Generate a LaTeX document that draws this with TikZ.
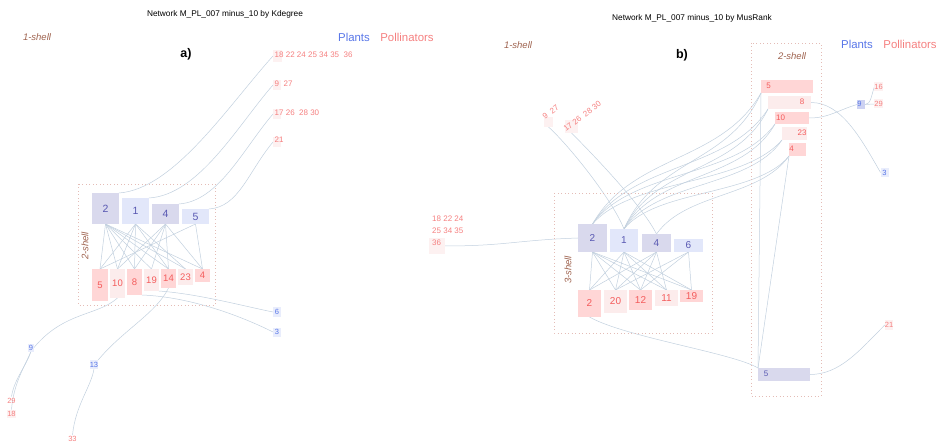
\documentclass[tikz,border=0pt]{standalone}
\usepackage{fontspec}
\setmainfont{Liberation Sans}
\usetikzlibrary{backgrounds}
\definecolor{edgec}{RGB}{194,208,222}
\definecolor{dotc}{RGB}{228,188,182}
\definecolor{shellc}{RGB}{158,98,78}
\definecolor{plantc}{RGB}{88,118,232}
\definecolor{pollc}{RGB}{245,128,128}
\definecolor{ptext}{RGB}{88,88,178}
\definecolor{qtext}{RGB}{244,92,92}
\definecolor{lav}{RGB}{217,217,237}
\definecolor{lblue}{RGB}{226,231,250}
\definecolor{dpink}{RGB}{255,214,214}
\definecolor{lpink}{RGB}{252,236,236}
\definecolor{fpink}{RGB}{253,241,241}
\definecolor{fblue}{RGB}{233,237,252}
\definecolor{mlav}{RGB}{205,210,242}
\newcommand{\myfs}[1]{\fontsize{#1pt}{#1pt}\selectfont}
\begin{document}
\begin{tikzpicture}[x=1pt,y=-1pt,
  bx/.style={inner sep=0pt, outer sep=0pt},
  pl/.style={bx, text=ptext},
  po/.style={bx, text=qtext},
  edge/.style={draw=edgec, line width=0.5pt},
  shellbox/.style={draw=dotc, line width=0.9pt, dash pattern=on 0.9pt off 2.6pt},
  shelltxt/.style={text=shellc, font=\myfs{9.5}\itshape, inner sep=0pt},
  lonep/.style={bx, text=plantc, font=\myfs{7.5}},
  loneq/.style={bx, text=pollc, font=\myfs{7.5}},
  ttl/.style={inner sep=0pt, font=\myfs{8.3}},
  legp/.style={inner sep=0pt, text=plantc, font=\myfs{11.4}},
  legq/.style={inner sep=0pt, text=pollc, font=\myfs{11.4}},
  pan/.style={inner sep=0pt, font=\myfs{12.5}\bfseries},
  ]
\useasboundingbox (0,0) rectangle (936,443);

% ================= Panel a =================
\node[ttl] (titlea) at (225,14) {Network M\_PL\_007 minus\_10 by Kdegree};
\node[shelltxt] (s1a) at (37,37) {1-shell};
\node[legp] (legpa) at (354,37) {Plants};
\node[legq] (legqa) at (407,37) {Pollinators};
\node[pan] (pa) at (186,54) {a)};

\draw[shellbox] (78,184) rectangle (215,305);
\node[shelltxt, rotate=90] (s2a) at (85,246) {2-shell};

% plants 2-shell a
\node[pl, fill=lav,   minimum width=27pt, minimum height=31pt, font=\myfs{10.5}] (a2) at (105.5,208.5) {2};
\node[pl, fill=lblue, minimum width=27pt, minimum height=26pt, font=\myfs{10.5}] (a1) at (135.5,211) {1};
\node[pl, fill=lav,   minimum width=27pt, minimum height=20pt, font=\myfs{10.5}] (a4) at (165.5,214) {4};
\node[pl, fill=lblue, minimum width=27pt, minimum height=15pt, font=\myfs{10.5}] (a5) at (195.5,216.5) {5};
% pollinators 2-shell a
\node[po, fill=dpink, minimum width=16pt, minimum height=32pt, font=\myfs{9.5}] (q5a) at (100,285) {5};
\node[po, fill=lpink, minimum width=15pt, minimum height=29pt, font=\myfs{9.5}] (q10a) at (117.5,283.5) {10};
\node[po, fill=dpink, minimum width=15pt, minimum height=26pt, font=\myfs{9.5}] (q8a) at (134.5,282) {8};
\node[po, fill=lpink, minimum width=15pt, minimum height=22pt, font=\myfs{9.5}] (q19a) at (151.5,280) {19};
\node[po, fill=dpink, minimum width=15pt, minimum height=19pt, font=\myfs{9.5}] (q14a) at (168.5,278.5) {14};
\node[po, fill=lpink, minimum width=15pt, minimum height=16pt, font=\myfs{9.5}] (q23a) at (185.5,277) {23};
\node[po, fill=dpink, minimum width=15pt, minimum height=13pt, font=\myfs{9.5}] (q4a) at (202.5,275.5) {4};

% 1-shell pollinators top right a
\node[bx, fill=fpink, minimum width=9pt, minimum height=12pt] (q18a) at (277.5,56) {};
\node[inner sep=0pt, anchor=west, text=pollc, font=\myfs{8}] (t18a) at (274.5,54.5) {18 22 24 25 34 35\ \ 36};
\node[bx, fill=fpink, minimum width=8pt, minimum height=10pt] (q927a) at (277,85) {};
\node[inner sep=0pt, anchor=west, text=pollc, font=\myfs{8}] (t927a) at (274.5,84) {9\ \ 27};
\node[bx, fill=fpink, minimum width=8pt, minimum height=10pt] (q17a) at (277,114) {};
\node[inner sep=0pt, anchor=west, text=pollc, font=\myfs{8}] (t17a) at (274.5,113) {17 26\ \ 28 30};
\node[bx, fill=fpink, minimum width=8pt, minimum height=10pt] (q21a) at (277,142) {};
\node[inner sep=0pt, anchor=west, text=pollc, font=\myfs{8}] (t21a) at (274.5,140) {21};

% lone nodes a
\node[lonep, fill=fblue, minimum width=8pt, minimum height=9pt] (p6a) at (277,312) {6};
\node[lonep, fill=fblue, minimum width=8pt, minimum height=9pt] (p3a) at (277,332) {3};
\node[lonep, fill=fblue, minimum width=6pt, minimum height=8pt] (p9a) at (31,347.5) {9};
\node[lonep, fill=fblue, minimum width=8pt, minimum height=9pt] (p13a) at (94,364.5) {13};
\node[loneq, minimum width=8pt, minimum height=8pt] (q29a) at (11.5,400.5) {29};
\node[loneq, fill=fpink, minimum width=8pt, minimum height=8pt] (q18la) at (11.5,413.5) {18};
\node[loneq, minimum width=8pt, minimum height=8pt] (q33a) at (72.5,439) {33};

% ================= Panel b =================
\node[ttl] (titleb) at (692,18) {Network M\_PL\_007 minus\_10 by MusRank};
\node[shelltxt] (s1b) at (518,45) {1-shell};
\node[legp] (legpb) at (857,44) {Plants};
\node[legq] (legqb) at (910,44) {Pollinators};
\node[pan] (pb) at (682,55) {b)};

\draw[shellbox] (751,43) rectangle (821,396);
\node[shelltxt] (s2b) at (792,56) {2-shell};
\draw[shellbox] (554,193) rectangle (712,333);
\node[shelltxt, rotate=90] (s3b) at (568,270) {3-shell};

% plants 3-shell b
\node[pl, fill=lav,   minimum width=29pt, minimum height=28pt, font=\myfs{10}] (b2) at (592.5,238) {2};
\node[pl, fill=lblue, minimum width=28pt, minimum height=23pt, font=\myfs{10}] (b1) at (624,240.5) {1};
\node[pl, fill=lav,   minimum width=29pt, minimum height=18pt, font=\myfs{10}] (b4) at (656.5,243) {4};
\node[pl, fill=lblue, minimum width=29pt, minimum height=13pt, font=\myfs{10}] (b6) at (688.5,245.5) {6};
% pollinators 3-shell b
\node[po, fill=dpink, minimum width=23pt, minimum height=27pt, font=\myfs{10}] (r2) at (589.5,303.5) {2};
\node[po, fill=lpink, minimum width=23pt, minimum height=23pt, font=\myfs{10}] (r20) at (615.5,301.5) {20};
\node[po, fill=dpink, minimum width=23pt, minimum height=20pt, font=\myfs{10}] (r12) at (640.5,300) {12};
\node[po, fill=lpink, minimum width=23pt, minimum height=16pt, font=\myfs{10}] (r11) at (666.5,298) {11};
\node[po, fill=dpink, minimum width=23pt, minimum height=12pt, font=\myfs{10}] (r19) at (691.5,296) {19};

% 2-shell b
\node[bx, fill=dpink, minimum width=52pt, minimum height=13pt] (q5b) at (787,86.5) {};
\node[po, font=\myfs{8}] (t5b) at (768.5,86) {5};
\node[bx, fill=lpink, minimum width=43pt, minimum height=13pt] (q8b) at (789.5,102.5) {};
\node[po, font=\myfs{8}] (t8b) at (802,102) {8};
\node[bx, fill=dpink, minimum width=34pt, minimum height=12pt] (q10b) at (792,118) {};
\node[po, font=\myfs{8}] (t10b) at (780.5,117.5) {10};
\node[bx, fill=lpink, minimum width=25pt, minimum height=13pt] (q23b) at (794.5,133.5) {};
\node[po, font=\myfs{8}] (t23b) at (802,133) {23};
\node[bx, fill=dpink, minimum width=17pt, minimum height=13pt] (q4b) at (797.5,149.5) {};
\node[po, font=\myfs{8}] (t4b) at (791.5,149) {4};
\node[bx, fill=lav, minimum width=52pt, minimum height=13pt] (p5b) at (784,374.5) {};
\node[pl, font=\myfs{8}] (t5pb) at (766,374) {5};

% lone nodes b
\node[bx, fill=mlav, minimum width=8pt, minimum height=9pt] (p9b) at (861,104.5) {};
\node[lonep] (t9b) at (859.5,103.5) {9};
\node[loneq, fill=fpink, minimum width=8pt, minimum height=9pt] (q16b) at (878.5,87) {16};
\node[loneq, fill=fpink, minimum width=8pt, minimum height=9pt] (q29b) at (878.5,104) {29};
\node[lonep, fill=fblue, minimum width=8pt, minimum height=9pt] (p3b) at (884.5,172.5) {3};
\node[loneq, fill=fpink, minimum width=8pt, minimum height=10pt] (q21b) at (889,325) {21};

% 1-shell b left
\node[inner sep=0pt, anchor=west, text=pollc, font=\myfs{8}] (t18b) at (432,219) {18 22 24};
\node[inner sep=0pt, anchor=west, text=pollc, font=\myfs{8}] (t25b) at (432,231) {25 34 35};
\node[bx, fill=fpink, minimum width=16pt, minimum height=16pt] (q36b) at (437,246) {};
\node[inner sep=0pt, text=pollc, font=\myfs{8}] (t36b) at (436.5,243) {36};
\node[bx, fill=fpink, minimum width=9pt, minimum height=10pt] (q927b) at (548.5,122) {};
\node[inner sep=0pt, anchor=base west, rotate=37, text=pollc, font=\myfs{8}] (t927b) at (545,120) {9\ \ 27};
\node[bx, fill=fpink, minimum width=13pt, minimum height=13pt] (q17b) at (571.5,126.5) {};
\node[inner sep=0pt, anchor=base west, rotate=37, text=pollc, font=\myfs{8}] (t17b) at (566,132) {17 26\ \ 28 30};

% ================= Edges =================
\begin{scope}[on background layer]
% panel a internal
\foreach \q in {q5a,q10a,q8a,q19a,q14a,q23a,q4a} \draw[edge] (a2.south) -- (\q.north);
\foreach \q in {q5a,q10a,q8a,q14a,q23a} \draw[edge] (a1.south) -- (\q.north);
\foreach \q in {q10a,q8a,q19a,q14a,q4a} \draw[edge] (a4.south) -- (\q.north);
\foreach \q in {q5a,q4a} \draw[edge] (a5.south) -- (\q.north);
% panel a to 1-shell
\draw[edge] (a2.north east) .. controls +(55,-4) and +(-45,50) .. (q18a.west);
\draw[edge] (a1.north east) .. controls +(50,-3) and +(-35,40) .. (q927a.west);
\draw[edge] (a4.north east) .. controls +(40,-3) and +(-30,35) .. (q17a.west);
\draw[edge] (a5.north east) .. controls +(30,-2) and +(-25,30) .. (q21a.west);
\draw[edge] (q19a.south east) .. controls +(40,3) and +(-30,-6) .. (p6a.west);
\draw[edge] (q8a.south east) .. controls +(50,2) and +(-30,-15) .. (p3a.west);
\draw[edge] (q10a.south) .. controls +(-20,18) and +(30,-36) .. (p9a.east);
\draw[edge] (p9a.south) .. controls +(-5,15) and +(3,-18) .. (q29a.north);
\draw[edge] (p9a.south) .. controls +(-6,14) and +(2,-26) .. (q18la.north);
\draw[edge] (q14a.south) .. controls +(-12,25) and +(25,-30) .. (p13a.north east);
\draw[edge] (p13a.south) .. controls +(-3,18) and +(3,-30) .. (q33a.north);
% panel b internal 3-shell
\foreach \q in {r2,r20,r12,r11,r19} \draw[edge] (b2.south) -- (\q.north);
\foreach \q in {r2,r20,r12,r11,r19} \draw[edge] (b1.south) -- (\q.north);
\foreach \q in {r2,r20,r12,r11} \draw[edge] (b4.south) -- (\q.north);
\foreach \q in {r20,r12,r19} \draw[edge] (b6.south) -- (\q.north);
% 3-shell to 2-shell
\draw[edge] (b2.north) .. controls +(40,-70) and +(-40,70) .. (q5b.south west);
\draw[edge] (b2.north) .. controls +(40,-62) and +(-40,62) .. (q8b.south west);
\draw[edge] (b2.north) .. controls +(40,-55) and +(-40,55) .. (q10b.south west);
\draw[edge] (b2.north) .. controls +(40,-46) and +(-40,46) .. (q23b.south west);
\draw[edge] (b1.north) .. controls +(32,-72) and +(-32,72) .. (q5b.south west);
\draw[edge] (b1.north) .. controls +(32,-65) and +(-32,65) .. (q8b.south west);
\draw[edge] (b1.north) .. controls +(32,-57) and +(-32,57) .. (q10b.south west);
\draw[edge] (b1.north) .. controls +(32,-48) and +(-32,48) .. (q23b.south west);
\draw[edge] (b1.north) .. controls +(32,-40) and +(-32,40) .. (q4b.south west);
\draw[edge] (b4.north) .. controls +(30,-42) and +(-30,42) .. (q4b.south west);
% 1-shell b
\draw[edge] (q36b.east) .. controls +(60,0) and +(-60,2) .. (b2.west);
\draw[edge] (q927b.south) .. controls +(20,18) and +(-12,-30) .. (b1.north);
\draw[edge] (q17b.south) .. controls +(15,15) and +(-15,-30) .. (b4.north);
\draw[edge] (r2.south) .. controls +(35,20) and +(-25,-15) .. (p5b.north west);
\draw[edge] (p5b.north west) -- (q5b.south west);
\draw[edge] (p5b.north west) -- (q4b.south west);
\draw[edge] (q8b.east) .. controls +(30,0) and +(-20,-35) .. (p3b.west);
\draw[edge] (q10b.east) .. controls +(20,0) and +(-20,6) .. (p9b.west);
\draw[edge] (p9b.east) .. controls +(6,0) and +(-3,8) .. (q16b.west);
\draw[edge] (p9b.east) -- (q29b.west);
\draw[edge] (p5b.east) .. controls +(30,0) and +(-25,25) .. (q21b.west);
\end{scope}
\end{tikzpicture}
\end{document}
